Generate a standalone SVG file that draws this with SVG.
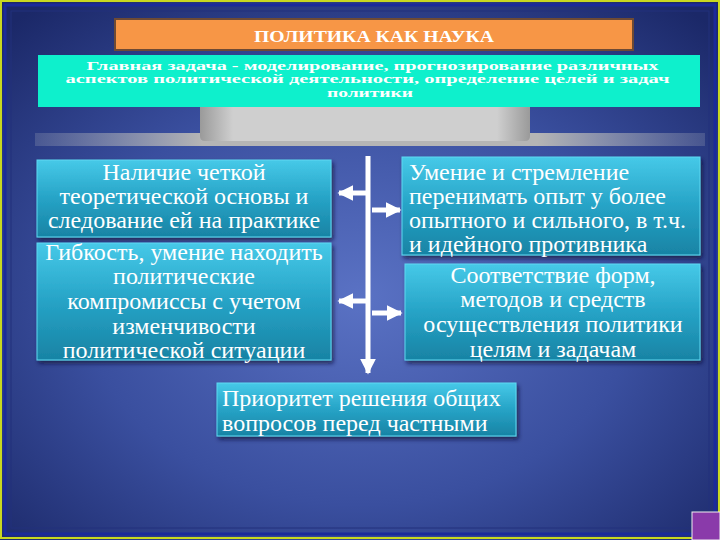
<svg xmlns="http://www.w3.org/2000/svg" width="720" height="540" viewBox="0 0 720 540">
<defs>
<radialGradient id="bg" cx="0.5" cy="0.55" r="0.7">
<stop offset="0" stop-color="#5a72c4"/>
<stop offset="0.55" stop-color="#3a4f9f"/>
<stop offset="1" stop-color="#1b2868"/>
</radialGradient>
<linearGradient id="box" x1="0" y1="0" x2="0" y2="1">
<stop offset="0" stop-color="#46c9e8"/>
<stop offset="0.5" stop-color="#26a3c6"/>
<stop offset="1" stop-color="#1883a4"/>
</linearGradient>
<linearGradient id="plat" x1="0" y1="0" x2="1" y2="0">
<stop offset="0" stop-color="#9a9a9a"/>
<stop offset="0.1" stop-color="#cfcfcf"/>
<stop offset="0.9" stop-color="#cfcfcf"/>
<stop offset="1" stop-color="#9a9a9a"/>
</linearGradient>
<linearGradient id="bar" x1="0" y1="0" x2="1" y2="0">
<stop offset="0" stop-color="#8f97b0" stop-opacity="0.3"/>
<stop offset="0.25" stop-color="#b5b5b5"/>
<stop offset="0.75" stop-color="#b5b5b5"/>
<stop offset="1" stop-color="#8f97b0" stop-opacity="0.3"/>
</linearGradient>
<filter id="sh" x="-10%" y="-10%" width="125%" height="130%">
<feDropShadow dx="2" dy="3" stdDeviation="2" flood-color="#0a1030" flood-opacity="0.7"/>
</filter>
<marker id="ah" viewBox="0 0 10 10" refX="9" refY="5" markerWidth="3.2" markerHeight="3.2" orient="auto-start-reverse" markerUnits="strokeWidth">
<path d="M0,0 L10,5 L0,10 Z" fill="#ffffff"/>
</marker>
</defs>
<style>
.box{fill:url(#box);stroke:#5fd8f2;stroke-width:1;filter:url(#sh)}
.t{font-family:"Liberation Serif","Times New Roman",serif;font-size:24px;fill:#ffffff}
.c{text-anchor:middle}
.h{font-family:"Liberation Serif","Times New Roman",serif;font-weight:bold;fill:#ffffff}
.conn line{stroke:#ffffff;stroke-width:5}
</style>
<rect x="0" y="0" width="720" height="540" fill="url(#bg)"/>
<rect x="1" y="1" width="718" height="537" fill="none" stroke="#c8d820" stroke-width="2"/>
<rect x="5" y="5" width="710" height="529" fill="none" stroke="#1a2a9a" stroke-width="3"/>
<rect x="11" y="11" width="698" height="517" fill="none" stroke="#22307c" stroke-width="1"/>
<rect x="692" y="512" width="28" height="28" fill="#8a3aaa" stroke="#f0f0f0" stroke-width="1"/>

<g id="platform">
<rect x="35" y="133" width="670" height="13" fill="url(#bar)"/>
<path d="M200,100 L530,100 L530,136 Q530,141 525,141 L205,141 Q200,141 200,136 Z" fill="url(#plat)"/>
</g>

<g id="title">
<rect x="115" y="19" width="518" height="31" fill="#f79646" stroke="#6e4a34" stroke-width="2"/>
<text class="h" x="374" y="42" font-size="17" text-anchor="middle" textLength="240" lengthAdjust="spacingAndGlyphs">ПОЛИТИКА КАК НАУКА</text>
</g>

<g id="goal">
<rect x="38" y="55" width="662" height="52" fill="#0ef0cc"/>
<text class="h" font-size="12" text-anchor="middle">
<tspan x="374" y="70" textLength="572" lengthAdjust="spacingAndGlyphs">Главная задача - моделирование, прогнозирование различных</tspan>
<tspan x="369" y="83" textLength="604" lengthAdjust="spacingAndGlyphs">аспектов политической деятельности, определение  целей   и задач</tspan>
<tspan x="370" y="97" textLength="86" lengthAdjust="spacingAndGlyphs">политики</tspan>
</text>
</g>

<g class="conn" id="connectors">
<line x1="368" y1="156" x2="368" y2="373" marker-end="url(#ah)"/>
<line x1="366" y1="193" x2="339" y2="193" marker-end="url(#ah)"/>
<line x1="366" y1="301" x2="339" y2="301" marker-end="url(#ah)"/>
<line x1="372" y1="210" x2="400" y2="210" marker-end="url(#ah)"/>
<line x1="372" y1="313" x2="401" y2="313" marker-end="url(#ah)"/>
</g>

<g id="n1">
<rect class="box" x="37" y="160" width="294" height="77"/>
<text class="t c"><tspan x="184" y="180">Наличие четкой</tspan><tspan x="184" y="204">теоретической основы и</tspan><tspan x="184" y="228">следование ей на практике</tspan></text>
</g>
<g id="n2">
<rect class="box" x="37" y="243" width="294" height="117"/>
<text class="t c"><tspan x="184" y="260">Гибкость, умение находить</tspan><tspan x="184" y="284">политические</tspan><tspan x="184" y="309">компромиссы с учетом</tspan><tspan x="184" y="334">изменчивости</tspan><tspan x="184" y="358">политической ситуации</tspan></text>
</g>
<g id="n3">
<rect class="box" x="402" y="157" width="298" height="98"/>
<text class="t"><tspan x="409" y="180">Умение и стремление</tspan><tspan x="409" y="204">перенимать опыт у более</tspan><tspan x="409" y="228">опытного и сильного, в т.ч.</tspan><tspan x="409" y="252">и идейного противника</tspan></text>
</g>
<g id="n4">
<rect class="box" x="405" y="264" width="295" height="96"/>
<text class="t c"><tspan x="553" y="283">Соответствие форм,</tspan><tspan x="553" y="307">методов и средств</tspan><tspan x="553" y="332">осуществления политики</tspan><tspan x="553" y="357">целям и задачам</tspan></text>
</g>
<g id="n5">
<rect class="box" x="217" y="383" width="299" height="53"/>
<text class="t" font-size="25"><tspan x="222" y="406">Приоритет решения общих</tspan><tspan x="222" y="431">вопросов перед частными</tspan></text>
</g>
</svg>
